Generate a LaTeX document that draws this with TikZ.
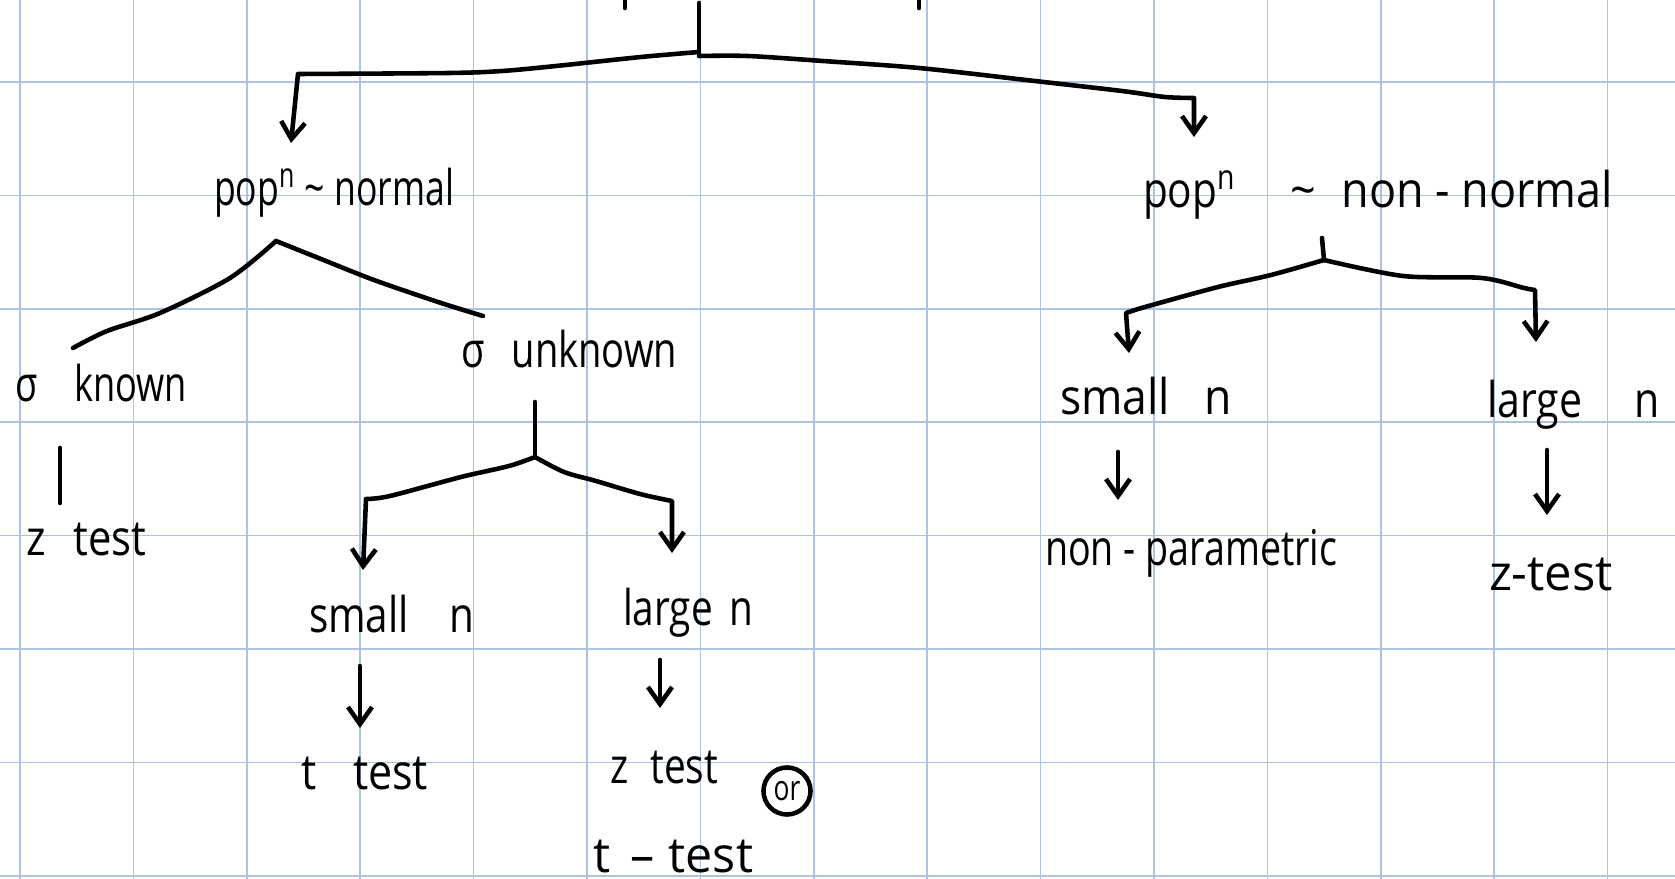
\documentclass[tikz,border=0pt]{standalone}
\usepackage{fontspec}
\setmainfont{Open Sans}
\usepackage{graphicx}
\usetikzlibrary{arrows.meta}
\definecolor{gridblue}{RGB}{172,194,226}
\newsavebox\hwbox
\newlength\hwlen
\newcommand\hwfont{\fontsize{14}{17}\selectfont}
\newcommand\hw[2]{\sbox\hwbox{\hwfont #2}\setlength\hwlen{\wd\hwbox}\pgfmathsetmacro\hwsc{#1*0.284528/\hwlen}\scalebox{\hwsc}[1]{\usebox\hwbox}}
\begin{document}
\begin{tikzpicture}[x=0.01cm,y=-0.01cm,
  ln/.style={line width=1.3pt, line cap=round, line join=round},
  arr/.style={ln, -{Straight Barb[length=1.7mm,width=2.4mm]}},
  lbl/.style={anchor=base west, inner sep=0pt, outer sep=0pt},
  gridline/.style={gridblue, line width=0.5pt}]
\fill[white] (0,0) rectangle (1675,879);
\useasboundingbox (0,0) rectangle (1675,879);
% grid
\foreach \k in {0,...,14} \draw[gridline] ({20+113.4*\k},0) -- ({20+113.4*\k},879);
\foreach \k in {0,...,7} \draw[gridline] (0,{82+113.4*\k}) -- (1675,{82+113.4*\k});

% labels
\node[lbl] (popL) at (214,206) {\hw{240}{pop\textsuperscript{n} \textasciitilde{} normal}};
\node[lbl] (popR) at (1143,208) {\hw{93}{pop\textsuperscript{n}}};
\node[lbl] (nnR) at (1290,208) {\hw{323}{\textasciitilde\hspace{8pt}non - normal}};
\node[lbl] (sk) at (16,401) {\hw{171}{σ\hspace{14pt}known}};
\node[lbl] (zt1) at (27,555) {\hw{119}{z\hspace{9pt}test}};
\node[lbl] (su) at (461,367) {\hw{216}{σ\hspace{10pt}unknown}};
\node[lbl] (snL) at (309,632) {\hw{165}{small\hspace{14pt}n}};
\node[lbl] (lnL) at (623,625) {\hw{130}{large\hspace{6pt}n}};
\node[lbl] (ttL) at (301,789) {\hw{127}{t\hspace{12pt}test}};
\node[lbl] (zt2) at (610,783) {\hw{108}{z\hspace{8pt}test}};
\node[draw, circle, ln, inner sep=0pt, minimum size=0.47cm] (or) at (787,791) {\fontsize{10}{12}\selectfont\scalebox{0.75}[1]{or}};
\node[lbl] (tt2) at (593,872) {\hw{160}{t\hspace{6pt}--\hspace{4pt}test}};
\node[lbl] (snR) at (1060,414) {\hw{172}{small\hspace{11pt}n}};
\node[lbl] (lnR) at (1487,417) {\hw{173}{large\hspace{18pt}n}};
\node[lbl] (np) at (1045,565) {\hw{292}{non - parametric}};
\node[lbl] (zt3) at (1489,590) {\hw{124}{z-test}};

% coordinates
\coordinate (top) at (699,3);
\coordinate (j0) at (699,52);
\coordinate (cL) at (298,74);
\coordinate (aL) at (291,143);
\coordinate (cR) at (1194,98);
\coordinate (aR) at (1194,137);
\coordinate (jL) at (276,241);
\coordinate (eK) at (73,348);
\coordinate (eU) at (483,316);
\coordinate (kA) at (60,448);
\coordinate (kB) at (60,503);
\coordinate (uS) at (535,402);
\coordinate (jU) at (535,457);
\coordinate (cUL) at (366,499);
\coordinate (aUL) at (363,570);
\coordinate (cUR) at (672,501);
\coordinate (aUR) at (672,553);
\coordinate (sA) at (360,666);
\coordinate (sB) at (360,728);
\coordinate (lA) at (660,660);
\coordinate (lB) at (660,708);
\coordinate (rS) at (1322,238);
\coordinate (jR) at (1324,260);
\coordinate (cRL) at (1126,313);
\coordinate (aRL) at (1129,353);
\coordinate (cRR) at (1535,290);
\coordinate (aRR) at (1536,342);
\coordinate (rsA) at (1118,452);
\coordinate (rsB) at (1118,500);
\coordinate (rlA) at (1547,450);
\coordinate (rlB) at (1547,515);

% strokes of cut-off text at the top
\draw[ln] (625,0) -- (625,8);
\draw[ln] (919,0) -- (919,8);

% top split
\draw[ln] (top) -- (j0);
\draw[arr] plot[smooth, tension=0.5] coordinates {(j0) (641,57) (556,66) (502,71) (449,73) (cL)} -- (aL);
\draw[arr] plot[smooth, tension=0.5] coordinates {(699,56) (748,56) (823,61) (919,68) (1026,80) (1122,91) (1165,97) (cR)} -- (aR);

% under pop ~ normal
\draw[ln] plot[smooth, tension=0.5] coordinates {(jL) (230,278) (160,313) (107,331) (eK)};
\draw[ln] plot[smooth, tension=0.5] coordinates {(jL) (321,259) (374,280) (438,302) (eU)};
\draw[ln] (kA) -- (kB);

% under sigma unknown
\draw[ln] (uS) -- (jU);
\draw[arr] plot[smooth, tension=0.5] coordinates {(jU) (509,466) (461,477) (390,496) (cUL)} -- (aUL);
\draw[arr] plot[smooth, tension=0.5] coordinates {(jU) (564,472) (596,481) (640,494) (cUR)} -- (aUR);
\draw[arr] (sA) -- (sB);
\draw[arr] (lA) -- (lB);

% under pop ~ non-normal
\draw[ln] (rS) -- (jR);
\draw[arr] plot[smooth, tension=0.5] coordinates {(jR) (1271,275) (1218,287) (1145,307) (cRL)} -- (aRL);
\draw[arr] plot[smooth, tension=0.5] coordinates {(jR) (1403,276) (1482,278) (1524,288) (cRR)} -- (aRR);
\draw[arr] (rsA) -- (rsB);
\draw[arr] (rlA) -- (rlB);
\end{tikzpicture}
\end{document}
